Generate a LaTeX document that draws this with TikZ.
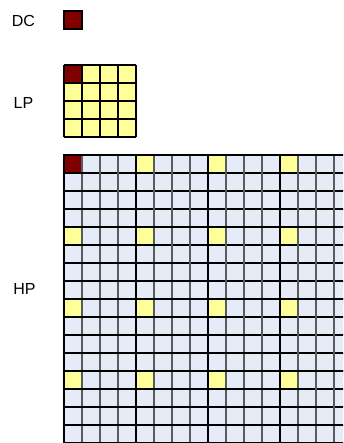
\documentclass[tikz,border=0pt]{standalone}
\usepackage{fontspec}
\setmainfont{Liberation Sans}
\definecolor{dcred}{HTML}{800000}
\definecolor{lpyel}{HTML}{FFFF99}
\definecolor{hpblue}{HTML}{E6ECF7}
\definecolor{thingray}{HTML}{5A5A5F}
\begin{document}
\begin{tikzpicture}[x=1pt,y=-1pt,
  lbl/.style={font=\fontsize{16}{18}\selectfont, inner sep=0pt},
  gridln/.style={line width=1.2pt, draw=black},
  blockln/.style={line width=1.8pt, draw=black},
  vthin/.style={line width=1.5pt, draw=thingray},
  hthin/.style={line width=1.1pt, draw=black}]
\useasboundingbox (0,0) rectangle (343,443);
% labels
\node[lbl] (dc) at (23.5,21) {DC};
\node[lbl] (lp) at (23.5,102.5) {LP};
\node[lbl] (hp) at (24.5,289) {HP};
% DC box
\fill[dcred] (64,11) rectangle (82,29);
\draw[gridln] (64,11) rectangle (82,29);
% LP grid
\fill[lpyel] (64,65) rectangle (136,137);
\fill[dcred] (64,65) rectangle (82,83);
\foreach \k in {0,...,4} {
  \draw[gridln] (64+18*\k,65) -- (64+18*\k,137);
  \draw[gridln] (64,65+18*\k) -- (136,65+18*\k);
}
% HP grid
\begin{scope}
\clip (0,0) rectangle (343,443);
\fill[hpblue] (64,155) rectangle (352,443);
\foreach \i in {0,...,3} {
  \foreach \j in {0,...,3} {
    \fill[lpyel] (64+72*\i,155+72*\j) rectangle +(18,18);
  }
}
\fill[dcred] (64,155) rectangle (82,173);
\foreach \k in {1,...,15} {
  \draw[vthin] (64+18*\k,155) -- (64+18*\k,445);
  \draw[hthin] (64,155+18*\k) -- (352,155+18*\k);
}
\foreach \k in {0,4,8,12,16} {
  \draw[blockln] (64+72*\k/4,154) -- (64+72*\k/4,445);
  \draw[blockln] (63,155+72*\k/4) -- (352,155+72*\k/4);
}
\end{scope}
\end{tikzpicture}
\end{document}
